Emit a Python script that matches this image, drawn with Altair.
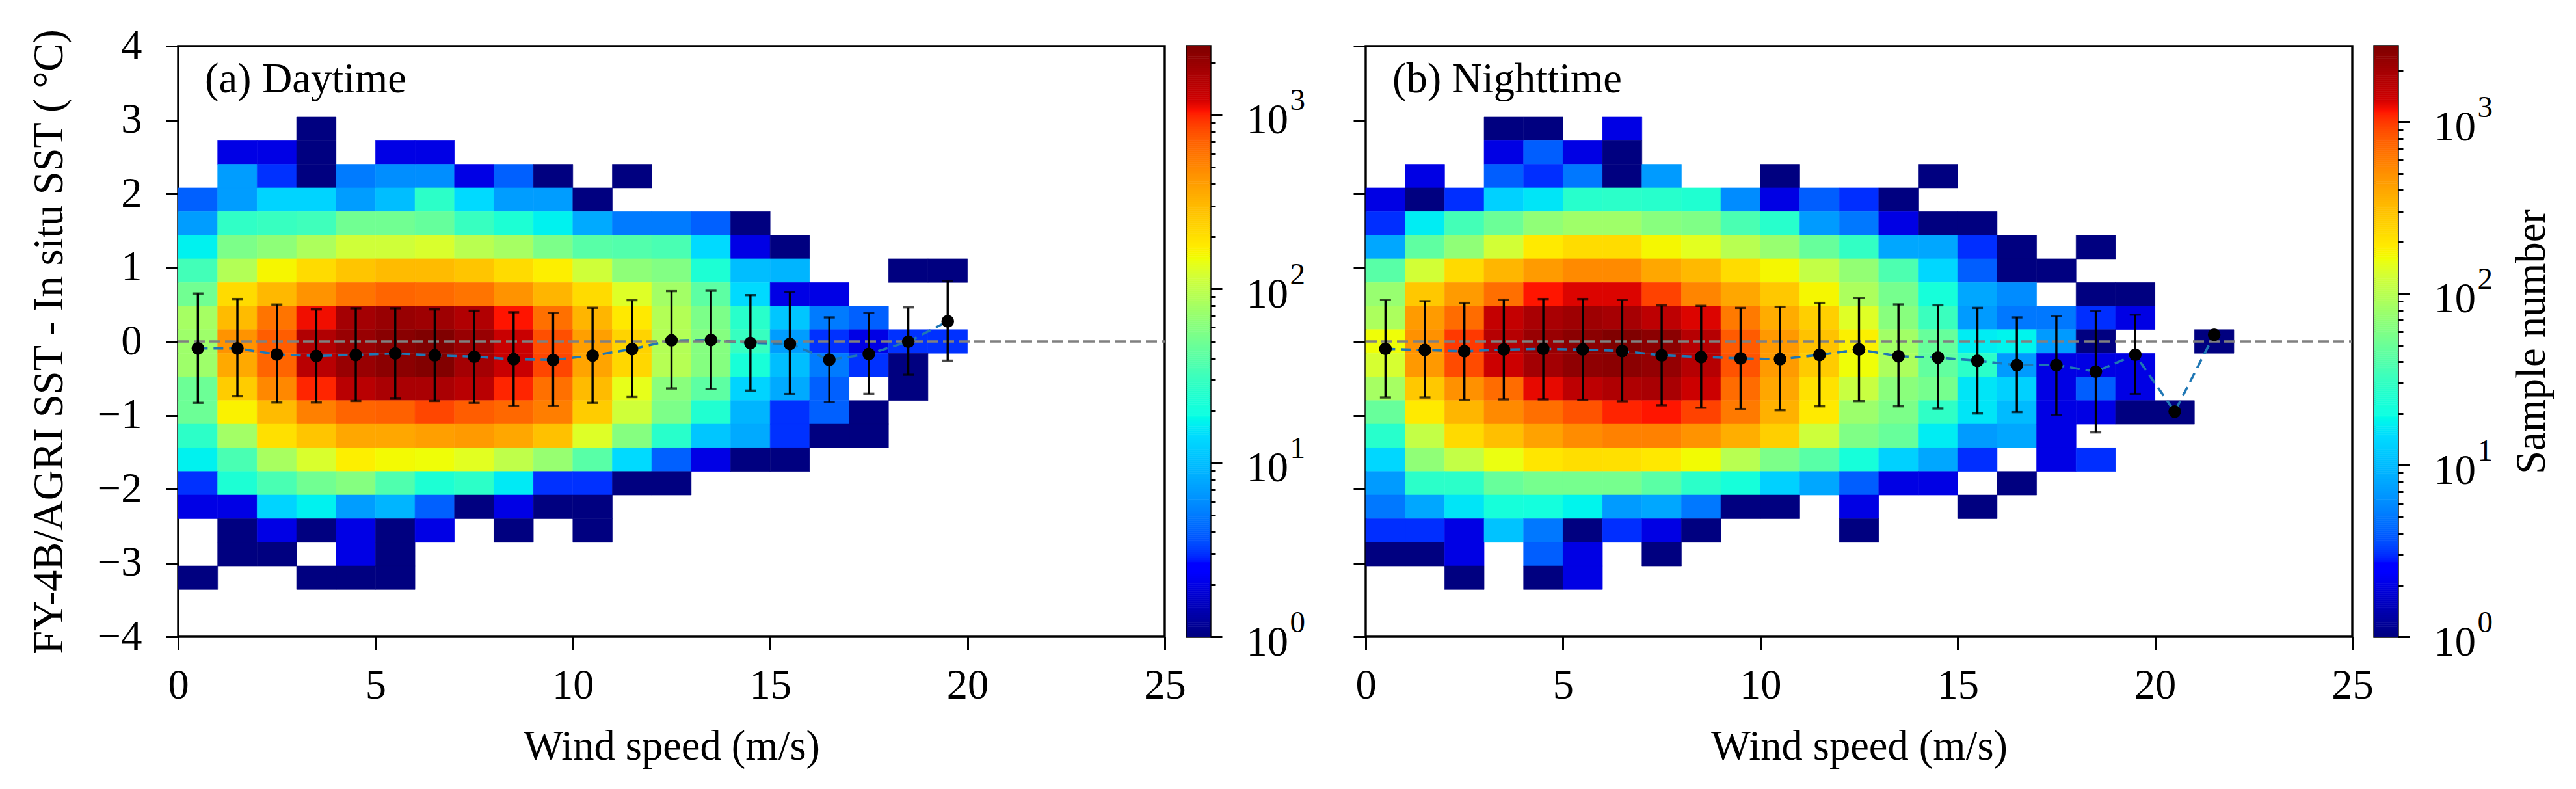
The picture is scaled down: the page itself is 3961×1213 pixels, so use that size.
import altair as alt
import numpy as np
import pandas as pd

N = None
FONT = "Liberation Serif"
FS = 64.5

# sample counts: one list per SST-difference row (top to bottom, row 21 down to row 2),
# one entry per 1 m/s wind-speed bin
DAY_ROWS = {
    21: [N, N, N, 1],
    20: [N, 2, 2, 1, N, 2, 2],
    19: [N, 7, 3, 1, 5, 6, 6, 2, 4, 1, N, 1],
    18: [4, 7, 13, 13, 7, 10, 27, 14, 7, 7, 1],
    17: [7, 28, 30, 32, 50, 50, 45, 30, 23, 17, 8, 5, 5, 4, 1],
    16: [17, 55, 65, 85, 115, 115, 125, 95, 80, 55, 40, 38, 35, 14, 2, 1],
    15: [33, 90, 160, 210, 270, 300, 300, 270, 210, 170, 115, 65, 58, 23, 10, 9, N, N, 1, 1],
    14: [50, 210, 310, 450, 600, 680, 650, 600, 450, 320, 210, 130, 78, 42, 14, 2, 2],
    13: [80, 300, 600, 1100, 1800, 2000, 1900, 1600, 1050, 620, 320, 180, 90, 55, 26, 11, 5, 4],
    12: [75, 450, 720, 1600, 2000, 2300, 2480, 2000, 1300, 800, 400, 230, 90, 60, 30, 7, 3, 2, 3, 3],
    11: [75, 360, 680, 1500, 2000, 2250, 2450, 1800, 1300, 850, 380, 220, 92, 60, 22, 10, 5, 3, 1],
    10: [48, 250, 500, 1000, 1500, 1700, 1700, 1500, 1000, 620, 300, 140, 62, 42, 13, 8, 4, N, 1],
    9: [48, 165, 300, 540, 680, 700, 850, 720, 660, 550, 250, 115, 55, 24, 9, 3, 4, 1],
    8: [27, 78, 200, 270, 370, 370, 400, 420, 370, 280, 130, 60, 26, 11, 8, 3, 1, 1],
    7: [17, 35, 82, 125, 170, 155, 150, 135, 100, 70, 40, 14, 4, 2, 1, 1],
    6: [3, 23, 35, 50, 60, 37, 23, 27, 16, 3, 3, 1, 1],
    5: [2, 2, 13, 17, 7, 9, 4, 1, 2, 1, 1],
    4: [N, 1, 2, 1, 2, 1, 2, N, 1, N, 1],
    3: [N, 1, 1, N, 2, 1],
    2: [1, N, N, 1, 1, 1],
}
NIGHT_ROWS = {
    21: [N, N, N, 1, 1, N, 2],
    20: [N, N, N, 2, 4, 2, 1],
    19: [N, 2, N, 4, 3, 5, 1, 7, N, N, 1, N, N, N, 1],
    18: [2, 1, 3, 13, 16, 27, 28, 27, 25, 6, 2, 4, 3, 1],
    17: [3, 17, 35, 50, 70, 80, 80, 65, 60, 37, 27, 7, 5, 2, 1, 1],
    16: [8, 45, 70, 125, 190, 225, 225, 170, 145, 100, 75, 48, 30, 8, 8, 3, 1, N, 1],
    15: [42, 125, 230, 340, 450, 530, 530, 400, 330, 225, 170, 110, 72, 38, 14, 4, 1, 1],
    14: [75, 280, 450, 680, 1150, 1300, 1300, 950, 560, 400, 280, 170, 90, 55, 22, 8, 6, N, 1, 1],
    13: [90, 450, 700, 1500, 1900, 2100, 1950, 1600, 1300, 620, 380, 260, 140, 65, 32, 7, 5, 5, 3, 2],
    12: [160, 500, 1000, 1700, 2200, 2500, 2750, 2500, 1700, 800, 460, 300, 180, 82, 48, 17, 18, 7, 1, N, N, 1],
    11: [130, 460, 900, 1400, 2000, 2400, 2500, 2300, 1700, 850, 450, 270, 160, 90, 46, 28, 7, 2, 2, 2],
    10: [85, 280, 500, 700, 1250, 1600, 1800, 1900, 1400, 700, 400, 210, 115, 66, 55, 16, 13, 2, 4, 2],
    9: [48, 190, 340, 530, 680, 850, 1100, 1150, 950, 620, 360, 190, 78, 58, 29, 16, 10, 2, 2, 1, 1],
    8: [27, 110, 230, 310, 420, 520, 580, 580, 490, 370, 260, 120, 60, 48, 17, 7, 8, 2],
    7: [14, 70, 110, 155, 200, 220, 215, 195, 165, 100, 58, 42, 22, 13, 8, 3, N, 2, 3],
    6: [7, 28, 28, 48, 55, 55, 55, 43, 28, 22, 13, 8, 4, 2, 2, N, 1],
    5: [5, 8, 16, 22, 21, 18, 7, 8, 5, 1, 1, N, 2, N, N, 1],
    4: [3, 3, 2, 11, 5, 1, 3, 2, 1, N, N, N, 1],
    3: [1, 1, 2, N, 4, 2, N, 1],
    2: [N, N, 1, N, 1, 2],
}

DAY_MEAN = [-0.094, -0.094, -0.176, -0.197, -0.182, -0.162, -0.188, -0.206, -0.241, -0.25,
            -0.191, -0.103, 0.015, 0.02, -0.02, -0.032, -0.247, -0.17, -0.003, 0.273]
DAY_UPPER = [0.65, 0.576, 0.5, 0.435, 0.45, 0.45, 0.435, 0.418, 0.397, 0.39,
             0.456, 0.559, 0.682, 0.687, 0.628, 0.667, 0.326, 0.385, 0.461, 0.822]
DAY_LOWER = [-0.83, -0.744, -0.826, -0.826, -0.806, -0.774, -0.806, -0.83, -0.874, -0.874,
             -0.83, -0.753, -0.635, -0.643, -0.664, -0.71, -0.822, -0.708, -0.45, -0.26]

NIGHT_MEAN = [-0.1, -0.115, -0.132, -0.109, -0.1, -0.109, -0.129, -0.188, -0.211, -0.229,
              -0.241, -0.182, -0.109, -0.2, -0.217, -0.261, -0.32, -0.32, -0.408, -0.179, -0.95, 0.091]
NIGHT_UPPER = [0.561, 0.546, 0.523, 0.567, 0.576, 0.576, 0.561, 0.488, 0.482, 0.455,
               0.47, 0.523, 0.59, 0.502, 0.49, 0.455, 0.326, 0.344, 0.414, 0.364]
NIGHT_LOWER = [-0.758, -0.758, -0.79, -0.784, -0.784, -0.79, -0.81, -0.863, -0.896, -0.913,
               -0.931, -0.878, -0.808, -0.878, -0.907, -0.975, -0.957, -0.996, -1.23, -0.71]

DAY_TOP = 2486
NIGHT_TOP = 2760
DECADES = [1, 10, 100, 1000]
EXPONENTS = {1: "0", 10: "1", 100: "2", 1000: "3"}
MINOR_TICKS = [2, 3, 4, 5, 6, 7, 8, 9, 20, 30, 40, 50, 60, 70, 80, 90,
               200, 300, 400, 500, 600, 700, 800, 900, 2000]
X_TICKS = [0, 5, 10, 15, 20, 25]
Y_TICKS = [-4, -3, -2, -1, 0, 1, 2, 3, 4]

JET_STOPS = [0, 0.11, 0.125, 0.34, 0.35, 0.375, 0.64, 0.65, 0.66, 0.89, 0.91, 1]
JET_COLORS = ["#000080", "#0000ff", "#0000ff", "#00dbff", "#00e5f7", "#14ffe2",
              "#eeff08", "#f7f500", "#ffec00", "#ff1300", "#d00000", "#800000"]

WIND_BIN = 1
DIFF_BIN = 0.32
PANEL_W, PANEL_H = 1517, 908
CBAR_W = 36


def cells(rows):
    out = []
    for k, vals in rows.items():
        for c, v in enumerate(vals):
            if v is not None:
                out.append({"x": c * WIND_BIN, "x2": (c + 1) * WIND_BIN,
                            "y": -4 + k * DIFF_BIN, "y2": -4 + (k + 1) * DIFF_BIN, "count": v})
    return pd.DataFrame(out)


def color_scale(top):
    return alt.Scale(type="log", domain=[top ** t for t in JET_STOPS], range=JET_COLORS, clamp=True)


def panel(rows, mean, upper, lower, top, label, show_y):
    x_axis = alt.Axis(values=X_TICKS, title="Wind speed (m/s)", grid=False, domain=False,
                      tickSize=20, tickWidth=3, tickColor="black", labelFont=FONT, labelFontSize=FS,
                      labelColor="black", labelPadding=23, titleFont=FONT, titleFontSize=FS,
                      titleFontWeight="normal", titleColor="black", titlePadding=31, format="d",
                      labelFlush=False)
    y_axis = alt.Axis(values=Y_TICKS, title="FY-4B/AGRI SST - In situ SST ( °C)" if show_y else " ",
                      grid=False, domain=False, tickSize=19, tickWidth=3, tickColor="black",
                      labels=show_y, labelFont=FONT, labelFontSize=FS, labelColor="black", labelPadding=37,
                      labelExpr="datum.value < 0 ? '−' + abs(datum.value) : datum.label",
                      titleFont=FONT, titleFontSize=FS, titleFontWeight="normal", titleColor="black",
                      titlePadding=40 if show_y else 7, format="d")
    xs = alt.Scale(domain=[0, 25], nice=False, zero=False)
    ys = alt.Scale(domain=[-4, 4], nice=False, zero=False)
    X = lambda f: alt.X(f, type="quantitative", scale=xs, axis=x_axis)
    Y = lambda f: alt.Y(f, type="quantitative", scale=ys, axis=y_axis)

    cs = color_scale(top)
    heat = alt.Chart(cells(rows)).mark_rect(strokeWidth=0.6).encode(
        x=X("x"), x2="x2", y=Y("y"), y2="y2",
        color=alt.Color("count:Q", scale=cs, legend=None),
        stroke=alt.Stroke("count:Q", scale=cs, legend=None),
    )
    mdf = pd.DataFrame({"w": [i + 0.5 for i in range(len(mean))], "mean": mean})
    edf = pd.DataFrame({"w": [i + 0.5 for i in range(len(upper))], "up": upper, "lo": lower})
    line = alt.Chart(mdf).mark_line(color="#1f77b4", strokeWidth=3.6, strokeDash=[15, 9]).encode(
        x=X("w"), y=Y("mean"))
    zero = alt.Chart(pd.DataFrame({"z": [0], "a": [0], "b": [25]})).mark_rule(
        color="#808080", strokeWidth=3.6, strokeDash=[17, 7]).encode(x=X("a"), x2="b", y=Y("z"))
    bars = alt.Chart(edf).mark_rule(color="black", strokeWidth=3.4).encode(
        x=X("w"), y=Y("lo"), y2="up")
    cap_lo = alt.Chart(edf).mark_tick(color="black", orient="horizontal", size=17, thickness=3.4).encode(
        x=X("w"), y=Y("lo"))
    cap_up = alt.Chart(edf).mark_tick(color="black", orient="horizontal", size=17, thickness=3.4).encode(
        x=X("w"), y=Y("up"))
    dots = alt.Chart(mdf).mark_circle(color="black", opacity=1, size=380).encode(
        x=X("w"), y=Y("mean"))
    text = alt.Chart(pd.DataFrame({"t": [label]})).mark_text(
        font=FONT, fontSize=FS, align="left", baseline="alphabetic", color="black").encode(
        x=alt.value(41), y=alt.value(71), text="t:N")
    return alt.layer(heat, line, zero, bars, cap_lo, cap_up, dots, text).properties(
        width=PANEL_W, height=PANEL_H)


def colorbar(top, title):
    levels = np.geomspace(1, top, 301)
    df = pd.DataFrame({"lo": levels[:-1], "hi": levels[1:], "a": 0, "b": 1})
    df["mid"] = np.sqrt(df["lo"] * df["hi"])
    ys = alt.Scale(type="log", domain=[1, top], nice=False)
    xs = alt.Scale(domain=[0, 1], nice=False)
    cs = color_scale(top)
    major = alt.Axis(orient="right", values=DECADES, grid=False, domain=False, tickSize=18, tickWidth=3,
                     tickColor="black", title=None, labelFont=FONT, labelFontSize=FS, labelColor="black",
                     labelPadding=37, labelOffset=9, labelBaseline="middle", labelExpr="'10'")
    minor = alt.Axis(orient="right", values=MINOR_TICKS, grid=False, domain=False, tickSize=8, tickWidth=3,
                     tickColor="black", labels=False, title=None)
    expo = " : ".join(f"datum.value == {k} ? '{v}'" for k, v in EXPONENTS.items()) + " : ''"
    sup = alt.Axis(orient="right", values=DECADES, grid=False, domain=False, ticks=False, tickSize=0,
                   title=title, labelFont=FONT, labelFontSize=47, labelColor="black", labelPadding=122,
                   labelOffset=-22, labelBaseline="middle", labelExpr=expo,
                   titleFont=FONT, titleFontSize=FS, titleFontWeight="normal", titleColor="black",
                   titleAngle=270, titlePadding=94)
    ramp = alt.Chart(df).mark_rect(strokeWidth=0.6).encode(
        x=alt.X("a:Q", scale=xs, axis=None), x2="b",
        y=alt.Y("lo:Q", scale=ys, axis=major), y2="hi",
        color=alt.Color("mid:Q", scale=cs, legend=None),
        stroke=alt.Stroke("mid:Q", scale=cs, legend=None),
    )
    marks = alt.Chart(pd.DataFrame({"m": MINOR_TICKS, "a": 0})).mark_point(opacity=0).encode(
        x=alt.X("a:Q", scale=xs, axis=None), y=alt.Y("m:Q", scale=ys, axis=minor))
    exps = alt.Chart(pd.DataFrame({"m": DECADES, "a": 0})).mark_point(opacity=0).encode(
        x=alt.X("a:Q", scale=xs, axis=None), y=alt.Y("m:Q", scale=ys, axis=sup))
    return alt.layer(ramp, marks, exps).resolve_axis(y="independent").properties(width=CBAR_W, height=PANEL_H)


chart = alt.hconcat(
    panel(DAY_ROWS, DAY_MEAN, DAY_UPPER, DAY_LOWER, DAY_TOP, "(a) Daytime", True),
    colorbar(DAY_TOP, None),
    panel(NIGHT_ROWS, NIGHT_MEAN, NIGHT_UPPER, NIGHT_LOWER, NIGHT_TOP, "(b) Nighttime", False),
    colorbar(NIGHT_TOP, "Sample number"),
    spacing=-5,
).properties(
    padding={"left": 33, "top": 28, "right": 0, "bottom": 0}, background="white"
).resolve_scale(color="independent", stroke="independent", x="independent", y="independent"
).configure_view(stroke="black", strokeWidth=3.4)

chart.save("out.html", embed_options={"renderer": "svg", "actions": False})
